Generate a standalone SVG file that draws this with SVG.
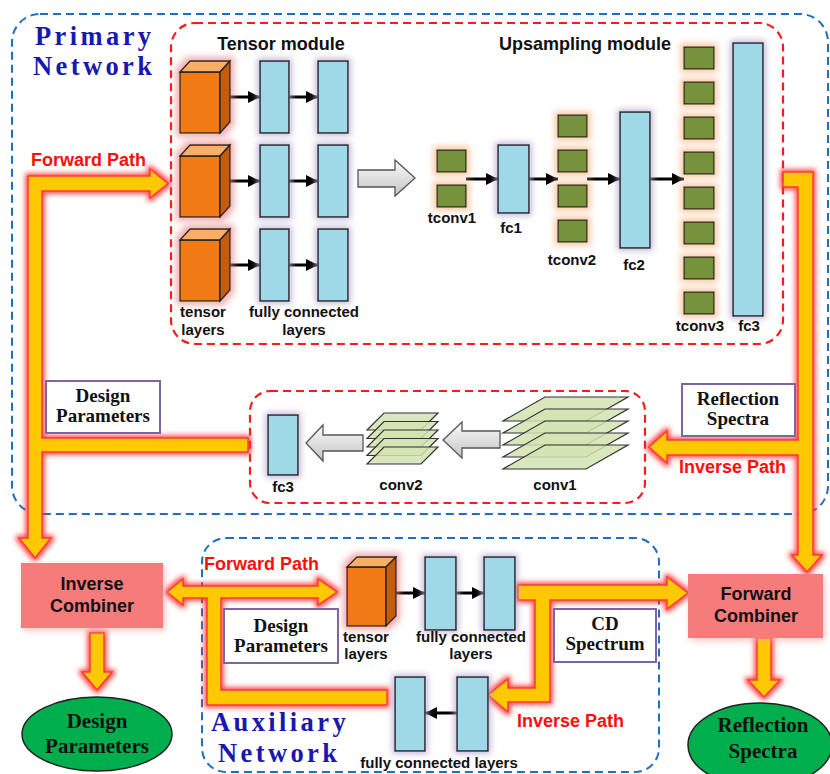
<svg xmlns="http://www.w3.org/2000/svg" width="830" height="774" viewBox="0 0 830 774">
<style>
.sans{font-family:"Liberation Sans",Arial,sans-serif;font-weight:bold;fill:#111}
.serif{font-family:"Liberation Serif","Times New Roman",serif;font-weight:bold;fill:#111}
.title{font-family:"Liberation Serif","Times New Roman",serif;font-weight:bold;fill:#1818b0;font-size:26.5px;letter-spacing:3.4px}
.red{font-family:"Liberation Sans",Arial,sans-serif;font-weight:bold;fill:#ff0d0d;font-size:18px}
.bluebox{fill:none;stroke:#1f6fc0;stroke-width:2;stroke-dasharray:8 5}
.redbox{fill:none;stroke:#ff1a1a;stroke-width:2.2;stroke-dasharray:8 5}
.fc{fill:#9fd9e8;stroke:#222;stroke-width:1.5;filter:url(#pglow)}
.sq{fill:#76923c;stroke:#222;stroke-width:1.3;filter:url(#oglow)}
.front{fill:#f27a15;stroke:#222;stroke-width:1.3}
.top{fill:#fbae66;stroke:#222;stroke-width:1.3}
.side{fill:#c45c0c;stroke:#222;stroke-width:1.3}
.band{fill:#ffc800;stroke:#ff3a3a;stroke-width:1.5;filter:url(#rglow)}
.lbl{fill:#fff;stroke:#8064a2;stroke-width:2}
.comb{fill:#f67c7c;filter:url(#cglow)}
.ell{fill:#00ae4e;stroke:#222;stroke-width:1.5}
.blk{stroke:#000;stroke-width:3;fill:none;marker-end:url(#ah)}
.gray{fill:url(#gg);stroke:#555;stroke-width:1.3}
.l1{fill:#d2e3b0;stroke:#333;stroke-width:1.2;fill-opacity:0.85}
</style>
<defs>
<marker id="ah" viewBox="0 0 10 10" refX="10" refY="5" markerWidth="14" markerHeight="12" markerUnits="userSpaceOnUse" orient="auto"><path d="M0,0 L10,5 L0,10 z" fill="#000"/></marker>
<linearGradient id="gg" x1="0" y1="0" x2="0" y2="1"><stop offset="0" stop-color="#fafafa"/><stop offset="1" stop-color="#c4c4c4"/></linearGradient>
<filter id="rglow" filterUnits="userSpaceOnUse" x="0" y="0" width="830" height="774">
<feMorphology in="SourceAlpha" operator="dilate" radius="2" result="d"/>
<feGaussianBlur in="d" stdDeviation="2.5" result="b"/>
<feFlood flood-color="#ff2a2a" flood-opacity="0.85"/>
<feComposite in2="b" operator="in" result="g"/>
<feMerge><feMergeNode in="g"/><feMergeNode in="SourceGraphic"/></feMerge>
</filter>
<filter id="pglow" filterUnits="userSpaceOnUse" x="0" y="0" width="830" height="774">
<feMorphology in="SourceAlpha" operator="dilate" radius="2" result="d"/>
<feGaussianBlur in="d" stdDeviation="3" result="b"/>
<feFlood flood-color="#b8a8d0" flood-opacity="0.8"/>
<feComposite in2="b" operator="in" result="g"/>
<feMerge><feMergeNode in="g"/><feMergeNode in="SourceGraphic"/></feMerge>
</filter>
<filter id="oglow" filterUnits="userSpaceOnUse" x="0" y="0" width="830" height="774">
<feMorphology in="SourceAlpha" operator="dilate" radius="3" result="d"/>
<feGaussianBlur in="d" stdDeviation="3" result="b"/>
<feFlood flood-color="#f9c49a" flood-opacity="0.9"/>
<feComposite in2="b" operator="in" result="g"/>
<feMerge><feMergeNode in="g"/><feMergeNode in="SourceGraphic"/></feMerge>
</filter>
<filter id="kglow" filterUnits="userSpaceOnUse" x="0" y="0" width="830" height="774">
<feMorphology in="SourceAlpha" operator="dilate" radius="3" result="d"/>
<feGaussianBlur in="d" stdDeviation="3.5" result="b"/>
<feFlood flood-color="#e88080" flood-opacity="0.7"/>
<feComposite in2="b" operator="in" result="g"/>
<feMerge><feMergeNode in="g"/><feMergeNode in="SourceGraphic"/></feMerge>
</filter>
<filter id="cglow" filterUnits="userSpaceOnUse" x="0" y="0" width="830" height="774">
<feGaussianBlur in="SourceAlpha" stdDeviation="3" result="b"/>
<feFlood flood-color="#f8a0a0" flood-opacity="0.6"/>
<feComposite in2="b" operator="in" result="g"/>
<feOffset dx="2" dy="3" result="o"/>
<feMerge><feMergeNode in="o"/><feMergeNode in="SourceGraphic"/></feMerge>
</filter>
</defs>
<rect width="830" height="774" fill="#fff"/>

<!-- containers -->
<g id="primary-network">
<rect class="bluebox" x="12" y="14" width="816" height="500" rx="28"/>
<text class="title" x="35" y="45">Primary</text>
<text class="title" x="33" y="75">Network</text>
</g>
<g id="tensor-upsampling-box">
<rect class="redbox" x="171" y="23" width="612" height="321" rx="24"/>
<text class="sans" x="281" y="50" font-size="18" text-anchor="middle">Tensor module</text>
<text class="sans" x="585" y="50" font-size="18" text-anchor="middle">Upsampling module</text>
</g>
<g id="inverse-box">
<rect class="redbox" x="250" y="391" width="395" height="112" rx="20"/>
</g>
<g id="auxiliary-network">
<rect class="bluebox" x="202" y="538" width="457" height="234" rx="24"/>
<text class="title" x="211" y="731">Auxiliary</text>
<text class="title" x="218" y="762">Network</text>
</g>

<!-- connectors -->
<g id="connectors">
<polygon class="band" points="28,176 150,176 150,169 168,183.5 150,198 150,191 42,191 42,438 248,438 248,452 42,452 42,538 51,538 35,558 19,538 28,538"/>
<polygon class="band" points="783,172 813,172 813,555 822,555 807,572 792,555 798,555 798,455 667,455 667,463 649,447 667,431 667,440 798,440 798,187 783,187"/>
<polygon class="band" points="167,592 183,579 183,586 318,586 318,579 337,592 318,605 318,598 221,598 221,690 387,690 387,705 207,705 207,598 183,598 183,605"/>
<polygon class="band" points="518,585 667,585 667,577 688,593 667,609 667,600 550,600 550,702 508,702 508,712 488,695 508,679 508,688 535,688 535,600 518,600"/>
<polygon class="band" points="90,633 104,633 104,672 112,672 97,690 82,672 90,672"/>
<polygon class="band" points="757,638 771,638 771,680 780,680 764,697 748,680 757,680"/>
<!-- gray block arrows -->
<polygon class="gray" points="358,170 395,170 395,160 415,178 395,196 395,187 358,187"/>
<polygon class="gray" points="363,435 323,435 323,425 306,443 323,461 323,451 363,451"/>
<polygon class="gray" points="500,431 462,431 462,422 443,440 462,458 462,448 500,448"/>
<!-- black arrows -->
<line class="blk" x1="230" y1="97" x2="260" y2="97"/>
<line class="blk" x1="289" y1="97" x2="318" y2="97"/>
<line class="blk" x1="230" y1="181" x2="260" y2="181"/>
<line class="blk" x1="289" y1="181" x2="318" y2="181"/>
<line class="blk" x1="230" y1="265" x2="260" y2="265"/>
<line class="blk" x1="289" y1="265" x2="318" y2="265"/>
<line class="blk" x1="466" y1="179" x2="498" y2="179"/>
<line class="blk" x1="529" y1="179" x2="558" y2="179"/>
<line class="blk" x1="587" y1="179" x2="620" y2="179"/>
<line class="blk" x1="650" y1="179" x2="684" y2="179"/>
<line class="blk" x1="396" y1="593" x2="425" y2="593"/>
<line class="blk" x1="456" y1="593" x2="484" y2="593"/>
<line class="blk" x1="457" y1="713" x2="425" y2="713"/>
<text class="red" x="31" y="166">Forward Path</text>
<text class="red" x="679" y="473">Inverse Path</text>
<text class="red" x="204" y="570">Forward Path</text>
<text class="red" x="517" y="727">Inverse Path</text>
</g>

<!-- tensor module -->
<g id="tensor-layers">
<g filter="url(#kglow)">
<rect class="front" x="180" y="72" width="40" height="61"/>
<polygon class="top" points="180,72 190,61 230,61 220,72"/>
<polygon class="side" points="220,72 230,61 230,122 220,133"/>
</g>
<g filter="url(#kglow)">
<rect class="front" x="180" y="156" width="40" height="61"/>
<polygon class="top" points="180,156 190,145 230,145 220,156"/>
<polygon class="side" points="220,156 230,145 230,206 220,217"/>
</g>
<g filter="url(#kglow)">
<rect class="front" x="180" y="240" width="40" height="61"/>
<polygon class="top" points="180,240 190,229 230,229 220,240"/>
<polygon class="side" points="220,240 230,229 230,290 220,301"/>
</g>
<text class="sans" x="203" y="317" font-size="15" text-anchor="middle">tensor</text>
<text class="sans" x="203" y="335" font-size="15" text-anchor="middle">layers</text>
</g>
<g id="tensor-fc-layers">
<rect class="fc" x="260" y="61" width="29" height="72"/>
<rect class="fc" x="318" y="61" width="30" height="72"/>
<rect class="fc" x="260" y="145" width="29" height="72"/>
<rect class="fc" x="318" y="145" width="30" height="72"/>
<rect class="fc" x="260" y="229" width="29" height="72"/>
<rect class="fc" x="318" y="229" width="30" height="72"/>
<text class="sans" x="304" y="317" font-size="15" text-anchor="middle">fully connected</text>
<text class="sans" x="304" y="335" font-size="15" text-anchor="middle">layers</text>
</g>

<!-- upsampling -->
<g id="tconv1">
<rect class="sq" x="437" y="150" width="29" height="22"/>
<rect class="sq" x="437" y="185" width="29" height="22"/>
<text class="sans" x="452" y="223" font-size="15" text-anchor="middle">tconv1</text>
</g>
<g id="fc1">
<rect class="fc" x="498" y="145" width="31" height="68"/>
<text class="sans" x="511" y="233" font-size="15" text-anchor="middle">fc1</text>
</g>
<g id="tconv2">
<rect class="sq" x="558" y="115" width="29" height="22"/>
<rect class="sq" x="558" y="150" width="29" height="22"/>
<rect class="sq" x="558" y="185" width="29" height="22"/>
<rect class="sq" x="558" y="220" width="29" height="22"/>
<text class="sans" x="572" y="265" font-size="15" text-anchor="middle">tconv2</text>
</g>
<g id="fc2">
<rect class="fc" x="620" y="112" width="30" height="136"/>
<text class="sans" x="634" y="270" font-size="15" text-anchor="middle">fc2</text>
</g>
<g id="tconv3">
<rect class="sq" x="684" y="47" width="30" height="22"/>
<rect class="sq" x="684" y="82" width="30" height="22"/>
<rect class="sq" x="684" y="117" width="30" height="22"/>
<rect class="sq" x="684" y="152" width="30" height="22"/>
<rect class="sq" x="684" y="187" width="30" height="22"/>
<rect class="sq" x="684" y="222" width="30" height="22"/>
<rect class="sq" x="684" y="257" width="30" height="22"/>
<rect class="sq" x="684" y="292" width="30" height="22"/>
<text class="sans" x="700" y="331" font-size="15" text-anchor="middle">tconv3</text>
</g>
<g id="fc3-primary">
<rect class="fc" x="733" y="43" width="30" height="273"/>
<text class="sans" x="749" y="331" font-size="15" text-anchor="middle">fc3</text>
</g>

<!-- inverse module -->
<g id="fc3-inverse">
<rect class="fc" x="268" y="415" width="30" height="60"/>
<text class="sans" x="283" y="492" font-size="15" text-anchor="middle">fc3</text>
</g>
<g id="conv2">
<polygon class="l1" points="384,413 438,413 421,430 367,430"/>
<polygon class="l1" points="384,421.5 438,421.5 421,438.5 367,438.5"/>
<polygon class="l1" points="384,430 438,430 421,447 367,447"/>
<polygon class="l1" points="384,438.5 438,438.5 421,455.5 367,455.5"/>
<polygon class="l1" points="384,447 438,447 421,464 367,464"/>
<text class="sans" x="401" y="490" font-size="15" text-anchor="middle">conv2</text>
</g>
<g id="conv1">
<polygon class="l1" points="545,397 628,397 586,421 503,421"/>
<polygon class="l1" points="545,409 628,409 586,433 503,433"/>
<polygon class="l1" points="545,421 628,421 586,445 503,445"/>
<polygon class="l1" points="545,433 628,433 586,457 503,457"/>
<polygon class="l1" points="545,445 628,445 586,469 503,469"/>
<text class="sans" x="555" y="490" font-size="15" text-anchor="middle">conv1</text>
</g>

<!-- labels -->
<g id="design-parameters-label">
<rect class="lbl" x="46" y="381" width="114" height="52"/>
<text class="serif" x="103" y="402" font-size="19" text-anchor="middle">Design</text>
<text class="serif" x="103" y="422" font-size="19" text-anchor="middle">Parameters</text>
</g>
<g id="reflection-spectra-label">
<rect class="lbl" x="682" y="384" width="113" height="52"/>
<text class="serif" x="738" y="405" font-size="19" text-anchor="middle">Reflection</text>
<text class="serif" x="738" y="425" font-size="19" text-anchor="middle">Spectra</text>
</g>

<!-- bottom -->
<g id="inverse-combiner">
<rect class="comb" x="21" y="563" width="142" height="65"/>
<text class="sans" x="92" y="590" font-size="18" text-anchor="middle">Inverse</text>
<text class="sans" x="92" y="612" font-size="18" text-anchor="middle">Combiner</text>
</g>
<g id="design-parameters-output">
<ellipse class="ell" cx="97" cy="734" rx="75" ry="37"/>
<text class="serif" x="97" y="728" font-size="21" text-anchor="middle">Design</text>
<text class="serif" x="97" y="753" font-size="21" text-anchor="middle">Parameters</text>
</g>
<g id="forward-combiner">
<rect class="comb" x="688" y="574" width="135" height="64"/>
<text class="sans" x="756" y="600" font-size="18" text-anchor="middle">Forward</text>
<text class="sans" x="756" y="622" font-size="18" text-anchor="middle">Combiner</text>
</g>
<g id="reflection-spectra-output">
<ellipse class="ell" cx="760" cy="745" rx="72" ry="42"/>
<text class="serif" x="763" y="732" font-size="21" text-anchor="middle">Reflection</text>
<text class="serif" x="763" y="758" font-size="21" text-anchor="middle">Spectra</text>
</g>

<g id="aux-design-parameters-label">
<rect class="lbl" x="224" y="609" width="114" height="54"/>
<text class="serif" x="281" y="632" font-size="19" text-anchor="middle">Design</text>
<text class="serif" x="281" y="652" font-size="19" text-anchor="middle">Parameters</text>
</g>
<g id="cd-spectrum-label">
<rect class="lbl" x="554" y="609" width="102" height="53"/>
<text class="serif" x="605" y="630" font-size="19" text-anchor="middle">CD</text>
<text class="serif" x="605" y="650" font-size="19" text-anchor="middle">Spectrum</text>
</g>
<g id="aux-tensor-layer">
<g filter="url(#kglow)">
<rect class="front" x="347" y="567" width="39" height="59"/>
<polygon class="top" points="347,567 357,557 396,557 386,567"/>
<polygon class="side" points="386,567 396,557 396,616 386,626"/>
</g>
<text class="sans" x="366" y="642" font-size="15" text-anchor="middle">tensor</text>
<text class="sans" x="366" y="659" font-size="15" text-anchor="middle">layers</text>
</g>
<g id="aux-forward-fc">
<rect class="fc" x="425" y="557" width="31" height="73"/>
<rect class="fc" x="484" y="557" width="31" height="73"/>
<text class="sans" x="471" y="642" font-size="15" text-anchor="middle">fully connected</text>
<text class="sans" x="471" y="659" font-size="15" text-anchor="middle">layers</text>
</g>
<g id="aux-inverse-fc">
<rect class="fc" x="395" y="677" width="30" height="74"/>
<rect class="fc" x="457" y="677" width="31" height="74"/>
<text class="sans" x="439" y="768" font-size="15" text-anchor="middle">fully connected layers</text>
</g>
</svg>
